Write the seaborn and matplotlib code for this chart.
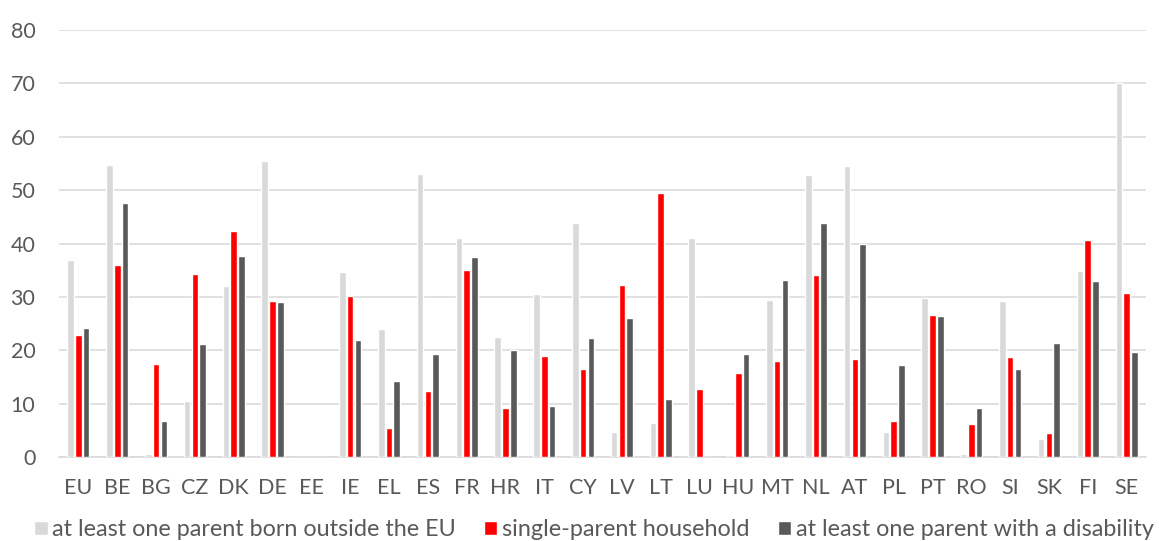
import numpy as np
import pandas as pd
import matplotlib
matplotlib.use("Agg")
import matplotlib.pyplot as plt
import seaborn as sns

countries = ["EU", "BE", "BG", "CZ", "DK", "DE", "EE", "IE", "EL", "ES", "FR", "HR", "IT", "CY",
             "LV", "LT", "LU", "HU", "MT", "NL", "AT", "PL", "PT", "RO", "SI", "SK", "FI", "SE"]
born_outside = [36.9, 54.8, 0.5, 10.4, 32.1, 55.4, 0.0, 34.7, 23.9, 53.0, 41.0, 22.4, 30.6, 43.8,
                4.6, 6.4, 41.0, 0.4, 29.4, 52.8, 54.5, 4.6, 29.8, 0.5, 29.2, 3.3, 34.9, 70.0]
single_parent = [22.9, 35.9, 17.4, 34.3, 42.3, 29.3, 0.0, 30.1, 5.4, 12.4, 35.1, 9.2, 18.9, 16.5,
                 32.3, 49.5, 12.8, 15.8, 17.9, 34.1, 18.4, 6.7, 26.6, 6.2, 18.7, 4.5, 40.6, 30.8]
disability = [24.1, 47.6, 6.8, 21.1, 37.6, 29.0, 0.0, 21.9, 14.3, 19.3, 37.4, 20.0, 9.5, 22.3,
              26.1, 10.9, 0.0, 19.3, 33.1, 43.9, 39.9, 17.3, 26.4, 9.1, 16.4, 21.3, 32.9, 19.6]
series_names = ["at least one parent born outside the EU", "single-parent household",
                "at least one parent with a disability"]
colors = ["#D9D9D9", "#FF0000", "#595959"]
y_ticks = [0, 10, 20, 30, 40, 50, 60, 70, 80]

rows = []
for name, vals in zip(series_names, [born_outside, single_parent, disability]):
    for c, v in zip(countries, vals):
        rows.append({"country": c, "series": name, "value": v})
df = pd.DataFrame(rows)

sns.set_style("white")
plt.rcParams["font.family"] = ["Lato", "DejaVu Sans"]

fig = plt.figure(figsize=(11.59, 5.41), dpi=100)
ax = fig.add_axes([59 / 1159, 1 - 457 / 541, (1146 - 59) / 1159, (457 - 30) / 541])

sns.barplot(data=df, x="country", y="value", hue="series", hue_order=series_names,
            order=countries, palette=colors, width=0.6, gap=0.15, saturation=1,
            errorbar=None, ax=ax, zorder=3)

ax.set_ylim(0, 80)
ax.set_xlim(-0.5, len(countries) - 0.5)
ax.set_yticks(y_ticks)
ax.yaxis.grid(True, color="#D9D9D9", linewidth=1.1, zorder=0)
ax.set_axisbelow(True)
for s in ["top", "right", "left"]:
    ax.spines[s].set_visible(False)
ax.spines["bottom"].set_color("#D9D9D9")
ax.spines["bottom"].set_linewidth(1.1)
ax.tick_params(axis="y", length=0, pad=17, labelsize=15.5, labelcolor="#595959")
ax.tick_params(axis="x", length=0, pad=15, labelsize=15.5, labelcolor="#595959")
ax.set_xlabel("")
ax.set_ylabel("")

handles, labels = ax.get_legend_handles_labels()
ax.get_legend().remove()
fig.legend(handles, labels, loc="center", bbox_to_anchor=(594 / 1159, 1 - 530 / 541), ncol=3,
           frameon=False, fontsize=16.8, labelcolor="#595959", handlelength=0.56,
           handleheight=0.56, handletextpad=0.21, columnspacing=1.2, borderaxespad=0)

fig.savefig("out.png", dpi=100)
